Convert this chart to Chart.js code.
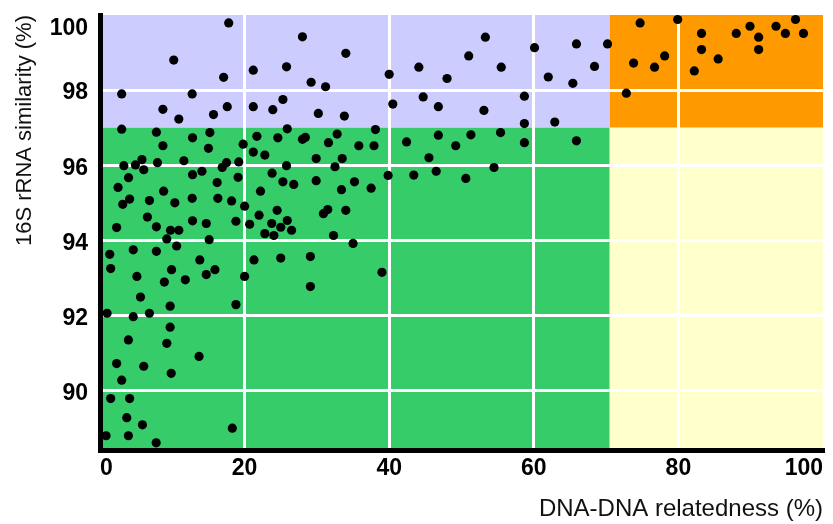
<!DOCTYPE html>
<html>
<head>
<meta charset="utf-8">
<script src="https://cdn.jsdelivr.net/npm/chart.js@4/dist/chart.umd.min.js"></script>
<style>
  html, body { margin: 0; padding: 0; background: #fff; }
  #wrap { width: 833px; height: 524px; }
</style>
</head>
<body>
<div id="wrap"><canvas id="c" width="833" height="524"></canvas></div>
<script>
// ---- data ----
const ddhValues = [
  17.8, 10.2, 17.1, 21.2, 3.0, 12.75, 8.7, 10.9, 15.7, 17.6, 21.2, 23.9, 3.0, 7.8, 8.7, 12.8, 15.2, 15.0, 19.8, 21.7,
  21.2, 22.8, 24.6, 3.3, 4.9, 5.8, 6.05, 7.95, 11.6, 12.8, 14.1, 16.9, 17.5, 19.2, 19.1, 23.8, 3.95,
  2.5, 16.2, 22.2, 8.8, 4.1, 3.15, 6.84, 10.35, 12.75, 16.3, 18.2, 20.0, 24.5, 6.56, 2.3, 7.8, 12.8, 14.7, 9.75, 10.9,
  9.24, 15.1, 18.8, 20.7, 22.0, 22.8, 23.75, 24.05, 1.35, 4.6, 7.8, 10.6, 1.48, 13.8, 21.3, 5.1, 9.9, 15.9, 14.7, 8.9,
  11.8, 20.0,
  5.6, 9.7, 18.8, 0.98, 4.6, 6.84, 9.7, 3.93, 9.24, 13.7, 2.3, 6.05, 9.85, 3.0, 1.48, 4.1, 3.7, 5.87, 18.3, 0.84, 3.93, 7.77,
  30.2, 33.8, 25.9, 28.0, 28.4, 32.8, 38.1, 31.6, 35.8, 37.9, 42.4, 46.8, 45.5, 46.5, 29.9, 33.5, 25.8, 32.5, 25.3, 26.8,
  29.9, 35.2, 39.85, 43.4, 33.4, 37.5, 25.9, 25.0, 26.5, 30.9, 31.5, 34.0, 32.3, 35.0, 25.0, 29.1, 29.1, 39.0,
  28.0, 34.0, 25.8, 29.2, 31.2, 40.0, 44.1, 48.0, 51.0, 53.3, 55.5, 60.1, 65.9, 70.2, 62.0, 65.4, 68.4, 25.3, 40.5, 44.7,
  46.8, 53.1, 58.7, 58.7, 62.9, 49.2, 51.3, 55.4, 58.7, 65.9, 54.5, 50.6,
  74.7, 79.9, 73.8, 76.7, 78.1, 72.8, 83.2, 83.2, 85.5, 82.2, 88.0, 89.9, 91.1, 91.1, 93.5, 94.8, 96.2, 97.3
];
const rrnaValues = [
  99.79, 98.8, 98.34, 98.53, 97.9, 97.9, 97.49, 97.23, 97.35, 97.56, 97.56, 97.48, 96.96, 96.88, 96.52, 96.73, 96.87, 96.45, 96.56, 96.77,
  96.35, 96.27, 96.73, 95.99, 96.01, 96.15, 95.88, 96.07, 96.12, 95.75, 95.84, 95.94, 96.07, 96.09, 95.68, 95.79, 95.67,
  95.41, 95.54, 95.31, 95.31, 95.10, 94.96, 95.06, 95.0, 95.12, 95.12, 95.05, 94.91, 94.8, 94.62, 94.34, 94.36, 94.52, 94.45, 94.27, 94.27,
  94.04, 94.02, 94.51, 94.43, 94.67, 94.18, 94.45, 94.13, 93.63, 93.75, 93.71, 93.85, 93.25, 93.48, 93.48, 93.04, 93.22, 93.22, 93.09, 92.89,
  92.95, 93.04,
  92.49, 92.25, 92.29, 92.06, 91.97, 92.06, 91.69, 91.35, 91.26, 90.91, 90.72, 90.65, 90.46, 90.28, 89.79, 89.79, 89.28, 89.09, 89.0, 88.8, 88.8, 88.61,
  97.38, 97.31, 96.97, 96.69, 96.74, 96.83, 96.95, 96.6, 96.52, 96.52, 96.62, 96.8, 96.2, 95.84, 96.18, 96.18, 95.99, 95.96, 95.56, 95.49,
  95.59, 95.56, 95.73, 95.74, 95.35, 95.39, 94.53, 94.35, 94.27, 94.71, 94.82, 94.8, 94.13, 93.92, 93.53, 93.57, 92.77, 93.15,
  99.42, 98.98, 98.62, 98.21, 98.09, 98.42, 98.61, 98.31, 98.91, 99.41, 98.61, 99.13, 99.23, 99.23, 98.35, 98.18, 98.63, 97.75, 97.63, 97.82,
  97.56, 97.46, 97.84, 97.11, 97.15, 96.52, 96.81, 96.87, 96.6, 96.65, 95.94, 95.65,
  99.79, 99.88, 98.72, 98.61, 98.91, 97.92, 99.51, 99.08, 98.83, 98.51, 99.51, 99.7, 99.41, 99.08, 99.7, 99.51, 99.88, 99.51
];
const xTickValues = [0, 20, 40, 60, 80, 100];
const yTickValues = [90, 92, 94, 96, 98, 100];
const ddhThreshold = 70.5;   // boundary of shaded regions (DNA-DNA relatedness)
const rrnaThreshold = 97;    // boundary of shaded regions (16S rRNA similarity)
const xTitle = 'DNA-DNA relatedness (%)';
const yTitle = '16S rRNA similarity (%)';

const points = ddhValues.map((v, i) => ({ x: v, y: rrnaValues[i] }));

const regionPlugin = {
  id: 'regions',
  beforeDraw(chart) {
    const { ctx, chartArea: a, scales: { x, y } } = chart;
    const xs = x.getPixelForValue(ddhThreshold);
    const ys = y.getPixelForValue(rrnaThreshold);
    ctx.save();
    ctx.fillStyle = '#ccccff'; ctx.fillRect(a.left, a.top, xs - a.left, ys - a.top);
    ctx.fillStyle = '#ff9900'; ctx.fillRect(xs, a.top, a.right - xs, ys - a.top);
    ctx.fillStyle = '#36cc69'; ctx.fillRect(a.left, ys, xs - a.left, a.bottom - ys);
    ctx.fillStyle = '#ffffcc'; ctx.fillRect(xs, ys, a.right - xs, a.bottom - ys);
    ctx.restore();
    // keep the top tick label inside the plot, like the reference
    const items = y.getLabelItems();
    items.forEach(it => {
      if (it.label === '100') {
        it.options.translation = [it.options.translation[0], y.getPixelForValue(100) + 14];
      }
    });
  }
};

const tickFont = { family: '"Liberation Sans", Arial, sans-serif', size: 23, weight: 'bold' };

new Chart(document.getElementById('c'), {
  type: 'scatter',
  data: {
    datasets: [{
      data: points,
      pointRadius: 4.6,
      pointHoverRadius: 4.6,
      pointBackgroundColor: '#000',
      pointBorderWidth: 0,
      clip: false
    }]
  },
  options: {
    responsive: false,
    animation: false,
    events: [],
    layout: { padding: { top: 15, right: 10, left: 0, bottom: 0 } },
    plugins: { legend: { display: false }, tooltip: { enabled: false } },
    scales: {
      x: {
        type: 'linear',
        min: 0, max: 100,
        afterBuildTicks: s => { s.ticks = xTickValues.map(v => ({ value: v })); },
        afterFit: s => { s.height = 74; s.paddingLeft = 0; s.paddingRight = 0; },
        grid: {
          color: c => (c.tick && (c.tick.value === 0 || c.tick.value === 100)) ? 'rgba(0,0,0,0)' : '#ffffff',
          lineWidth: 3,
          drawTicks: false
        },
        border: { display: true, color: '#000', width: 5 },
        ticks: { font: tickFont, color: '#000', padding: 5, align: 'inner', maxRotation: 0 },
        title: {
          display: true, text: xTitle, align: 'end',
          font: { family: '"Liberation Sans", Arial, sans-serif', size: 24 },
          color: '#111', padding: { top: 0, bottom: 0 }
        }
      },
      y: {
        type: 'linear',
        min: 88.42, max: 100,
        afterBuildTicks: s => { s.ticks = yTickValues.map(v => ({ value: v })); },
        afterFit: s => { s.width = 100; s.paddingTop = 0; s.paddingBottom = 0; },
        grid: {
          color: c => (c.tick && c.tick.value === 100) ? 'rgba(0,0,0,0)' : '#ffffff',
          lineWidth: 3,
          drawTicks: false
        },
        border: { display: true, color: '#000', width: 5 },
        ticks: { font: tickFont, color: '#000', padding: 12, labelOffset: 3, callback: v => String(v) },
        title: {
          display: true, text: yTitle, align: 'end',
          font: { family: '"Liberation Sans", Arial, sans-serif', size: 22 },
          color: '#111', padding: { top: 12, bottom: 0 }
        }
      }
    }
  },
  plugins: [regionPlugin]
});
</script>
</body>
</html>
